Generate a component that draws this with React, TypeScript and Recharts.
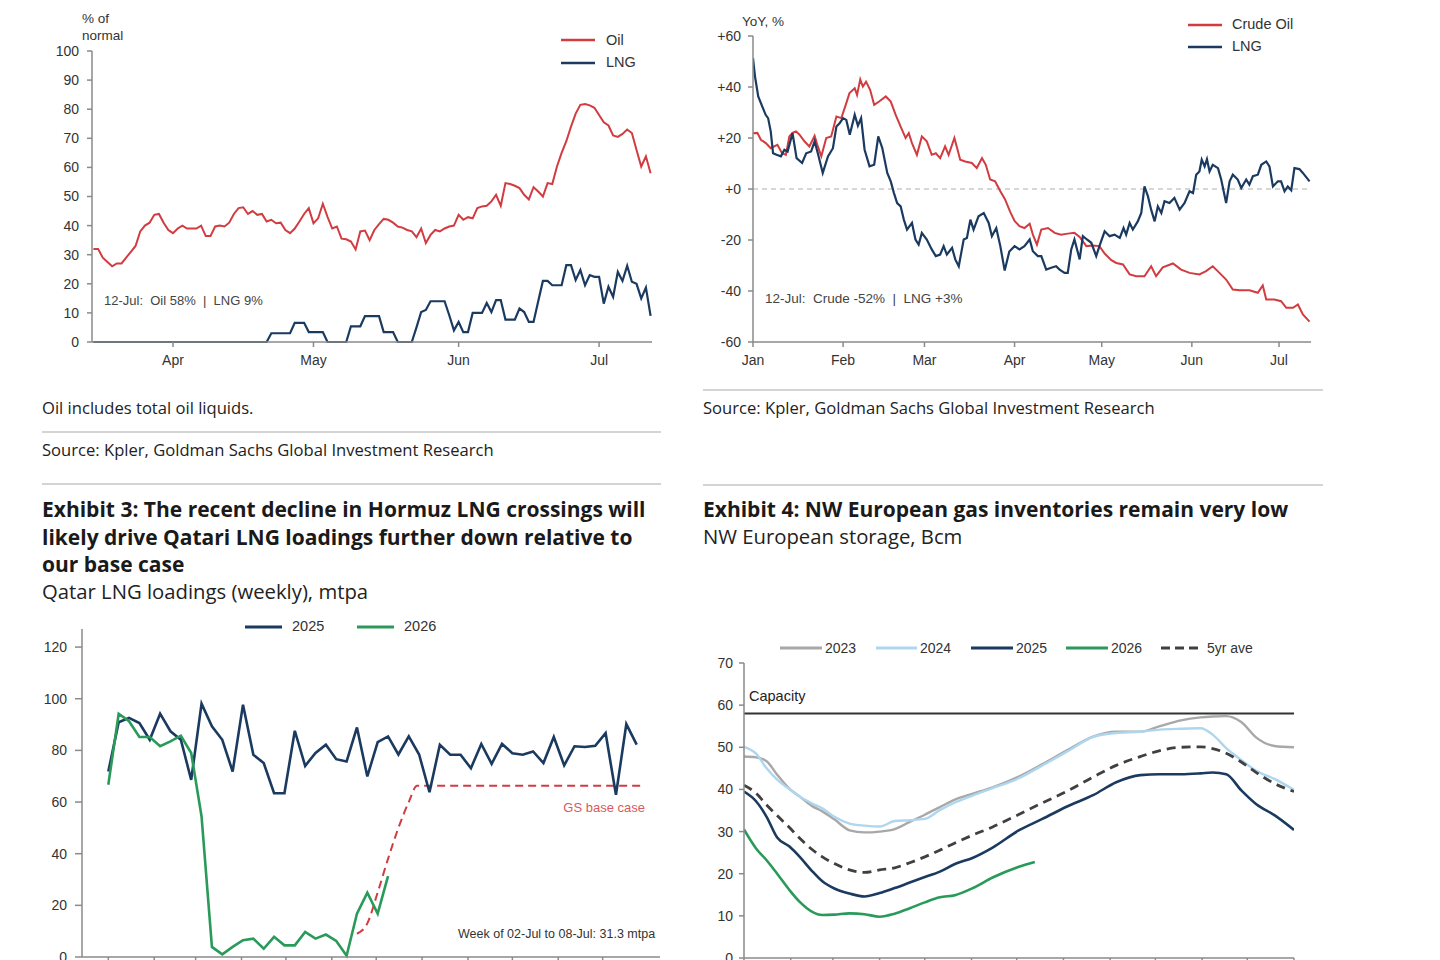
import React from 'react';
import { LineChart, Line, XAxis, YAxis, ReferenceLine } from 'recharts';

// ---------- Exhibit: Hormuz crossings, % of normal (daily, day 0 = 15-Mar) ----------
const hormuzTickDays = [17, 47, 78, 108];
const hormuzTickLabels = ['Apr', 'May', 'Jun', 'Jul'];
const pctTicks = [0, 10, 20, 30, 40, 50, 60, 70, 80, 90, 100];
const oilPct = [
  32, 32, 29, 27.5, 26, 27, 27, 29, 31, 33,
  38, 40, 41, 43.7, 44, 41, 38.5, 37.4, 39, 40,
  39, 39, 39, 40, 36.4, 36.4, 39.7, 40, 39.7, 41,
  44, 46, 46.3, 44, 45, 43.7, 44, 41.4, 42, 40.8,
  41, 38.5, 37.4, 39, 41.4, 44, 46, 40.8, 42.5, 47.5,
  43, 39, 39.7, 35.5, 35.3, 34.5, 31.8, 38, 38.3, 35,
  38.5, 40.5, 42.3, 42, 41, 39.7, 39.3, 38.5, 38, 36,
  39, 34, 36.8, 38.5, 38, 39, 39.7, 40, 43.7, 42,
  42.9, 42.5, 46, 46.6, 46.8, 48.3, 50.6, 46.8, 54.6, 54.3,
  53.7, 52.9, 50.6, 49, 53.2, 51.7, 50, 54.6, 54.3, 60.3,
  65, 69, 74, 78.5, 81.5, 81.8, 81.3, 80.5, 78, 75.5,
  74.4, 71, 70.5, 71.5, 73, 71.8, 66, 60.3, 63.8, 58,
];
const lngPct = [
  0, 0, 0, 0, 0, 0, 0, 0, 0, 0,
  0, 0, 0, 0, 0, 0, 0, 0, 0, 0,
  0, 0, 0, 0, 0, 0, 0, 0, 0, 0,
  0, 0, 0, 0, 0, 0, 0, 0, 3, 3,
  3, 3, 3, 6.6, 6.6, 6.6, 3.4, 3.4, 3.4, 3.4,
  0, 0, 0, 0, 0, 5.4, 5.4, 5.4, 8.9, 8.9,
  8.9, 8.9, 3.4, 3.4, 3.4, 0, 0, 0, 0, 5,
  10.3, 11, 14, 14, 14, 14, 9.2, 4, 6.9, 3.4,
  3.4, 10, 10, 10, 13.4, 10.3, 14.4, 14.4, 7.7, 7.7,
  7.7, 11.5, 10.3, 6.9, 6.9, 14, 21, 21, 19.5, 19.5,
  19.5, 26.4, 26.4, 21.3, 24.7, 19.5, 23, 22.4, 22.4, 13.2,
  19, 15.5, 24.1, 21, 26.2, 20.7, 20, 15, 18.7, 9,
];

// ---------- Exhibit: YoY change, % (day of year, 0 = 1-Jan) ----------
const yoyTickDays = [0, 31, 59, 90, 120, 151, 181];
const yoyTickLabels = ['Jan', 'Feb', 'Mar', 'Apr', 'May', 'Jun', 'Jul'];
const yoyTicks = [-60, -40, -20, 0, 20, 40, 60];
const crudeDay = [
  0, 1.5, 2.7, 4.4, 6.1, 7.3, 8.4, 10, 11.3, 12.5,
  13.6, 14.8, 16, 17.7, 19.4, 21.2, 22.3, 23.5, 25.2, 26.9,
  28.7, 30.4, 32.1, 33.2, 35, 35.8, 36.9, 37.8, 38.9, 40.3,
  41.7, 43.4, 45.7, 47.4, 49.1, 50.8, 52.5, 53.6, 54.7, 56.4,
  58.1, 59.8, 61.5, 62.9, 64.4, 66.1, 67.3, 69.3, 71.3, 73,
  75.3, 77, 78.8, 80.1, 81.6, 83.3, 85.1, 86.7, 88.5, 90,
  91.7, 93.4, 95.2, 96.3, 97.7, 99.2, 101.5, 103.8, 106, 108.3,
  110.6, 112.4, 114.7, 117, 119.2, 121, 123.3, 125, 127.3, 129.6,
  131.9, 134.7, 137, 138.7, 141, 144.5, 147.3, 150.2, 153.6, 155.9,
  158.2, 160.5, 162.8, 165.1, 167.4, 170.8, 173.7, 175.4, 176.6, 179.4,
  181.7, 183.5, 185.8, 187.5, 189.2, 191.5,
];
const crudeYoY = [
  21.9, 22, 19.3, 18, 16, 16.7, 17.3, 14, 13.4, 20.6,
  22, 22.6, 21.3, 18.7, 16.7, 20.9, 16.7, 12.8, 20, 20.6,
  28.4, 27.8, 33.7, 37.6, 39.5, 36.9, 43, 40.2, 42.1, 38.9,
  33, 34.3, 36.3, 34.3, 29.1, 24.5, 20, 21.9, 18, 13.4,
  20.6, 18.7, 13.4, 14, 12.1, 16.7, 13.4, 20, 11.5, 10.8,
  10.2, 8.2, 12.1, 9.5, 3.7, 3, -0.9, -4, -9, -12.5,
  -14.6, -15.3, -13.6, -17.9, -21.8, -15.9, -15.3, -17.2, -17.9, -17.5,
  -17.2, -18.8, -22.4, -22.2, -22.4, -25.3, -27.9, -29, -29.6, -33.5,
  -34.2, -34.2, -30.3, -34.2, -30.7, -29.2, -31.6, -32.9, -33.5, -32.2,
  -30.3, -32.9, -35.5, -39.4, -39.7, -39.7, -40.7, -37.8, -43.3, -43.3,
  -44, -46.6, -46.6, -45.3, -49.2, -52,
];
const lngDay = [
  0, 0.7, 1.8, 3.2, 4.4, 5.2, 6.1, 6.9, 8.1, 9.6,
  10.8, 11.9, 13.6, 15, 16.9, 18.3, 20, 21.2, 22.3, 24,
  25.8, 27.5, 28.7, 29.8, 31, 32.1, 33.3, 35, 36.1, 37.2,
  38.4, 40.1, 41.7, 43.1, 44.5, 46.2, 47.4, 48.5, 49.6, 50.8,
  51.9, 53, 54.7, 55.9, 57, 58.1, 59.8, 61.5, 62.9, 64.4,
  65.6, 66.7, 68.5, 69.6, 70.8, 72.5, 73.6, 74.8, 75.9, 77.6,
  79.4, 81.1, 82.2, 83.7, 85.1, 86.6, 88.2, 90, 91.7, 93.4,
  95.2, 96.3, 98, 99.2, 100.9, 102.6, 104.3, 105.5, 107.2, 108.3,
  109.5, 110.6, 112.4, 113.5, 114.9, 116.4, 118.1, 119.2, 121, 122.7,
  124.4, 126.2, 127.5, 128.4, 129.6, 130.7, 132.4, 133.6, 134.7, 135.9,
  137, 138.2, 139.3, 140.5, 141.6, 143.3, 145, 146.8, 148.5, 150.2,
  151.4, 152.5, 153.6, 154.4, 155.4, 156.2, 157.1, 158.2, 160, 161.1,
  162.8, 164, 165.1, 166.8, 168, 169.7, 170.8, 172, 173.7, 174.9,
  176.6, 177.7, 178.9, 180.6, 181.7, 182.9, 184, 185.2, 186.3, 188,
  189.2, 191.5,
];
const lngYoY = [
  51.3, 44, 36.3, 32.3, 29, 27.8, 22.6, 14, 13.4, 12.8,
  15.4, 14.7, 21.9, 12.1, 10.2, 14, 14.7, 18.7, 14, 6.3,
  12.8, 16, 24.5, 25.8, 27.8, 27.1, 21.3, 29.1, 24.8, 27.8,
  15.4, 8.9, 9.5, 20.6, 16, 6.3, 3, -1.6, -5.5, -6.8,
  -12, -15.9, -13.3, -19.8, -21.8, -17.2, -19.8, -23.7, -26.3, -25.7,
  -22.4, -25.7, -23.1, -27.6, -30.3, -19.8, -19.2, -12, -15.9, -10.7,
  -9.4, -13.3, -18.5, -15.3, -22.4, -32, -24.5, -22.4, -23.7, -22.4,
  -19.8, -24.4, -26.3, -26.3, -31.6, -30.9, -30.3, -31.6, -32.9, -32.9,
  -23.7, -19.8, -27.6, -18.5, -19.8, -21.1, -26.3, -22.4, -16.6, -18.5,
  -17.9, -19.2, -15.3, -17.9, -13.3, -15.9, -12.7, -9.4, 1, -2.9,
  -8.1, -12.7, -6.8, -9.4, -4.8, -5.5, -3.5, -8.1, -5.5, -0.9,
  -1.6, 5.6, 6.9, 11.5, 8.9, 11.7, 6.9, 9.5, 8.2, 3.7,
  -5.5, 3, 5.6, 3.7, 0.4, 3.7, 1.7, 5, 5.6, 9.5,
  10.8, 8.9, 1, 3, 3, -0.9, 1, -0.5, 8.2, 7.8,
  6.3, 3,
];

// ---------- Exhibit 3: Qatar LNG loadings (weekly), mtpa ----------
const monthStartDays = [0, 31, 59, 90, 120, 151, 181, 212, 243, 273, 304, 334];
const loadingTicks = [0, 20, 40, 60, 80, 100, 120];
const loadings2025 = [
  71.8, 90.9, 92.6, 90.6, 84.1, 94.2, 87.4, 84.1, 68.6, 98.1,
  89.3, 84.1, 71.8, 97.7, 78.3, 75.1, 63.4, 63.4, 87.6, 74,
  79, 82.2, 76.6, 75.7, 88.9, 69.9, 83.2, 85.4, 78.4, 85.4,
  78.4, 63.8, 82.2, 78.3, 78.3, 73.1, 82.5, 74.8, 82.5, 78.9,
  78.3, 79.6, 75.1, 85.2, 74.2, 81.6, 81.3, 81.8, 86.7, 62.8,
  90.2, 82.2,
];
const loadings2026 = [
  66.7, 94.2, 91.3, 85.2, 85.2, 81.6, 83.5, 85.7, 79, 54.4,
  3.9, 1, 3.9, 6.5, 7.1, 3.2, 7.8, 4.5, 4.5, 9.7,
  7.1, 8.7, 6.2, 0.5, 16.8, 24.9, 16.8, 31.3,
];
const baseCaseWeek = [24, 25, 26, 27, 28, 29, 29.8, 51.7];
const baseCaseValue = [9, 13, 25, 38, 50, 60, 66.3, 66.3];

// ---------- Exhibit 4: NW European storage, Bcm (day of year) ----------
const storageTicks = [0, 10, 20, 30, 40, 50, 60, 70];
const storageCapacity = 58;
const storageDay = [
  0, 8, 15, 22, 30, 37, 45, 52, 60, 70, 80, 90, 100, 110, 120, 130, 140,
  152, 165, 182, 198, 214, 232, 247, 263, 276, 290, 303, 311, 320, 330, 340, 352, 365,
];
const storage2023 = [
  47.8, 47.6, 46.7, 43.5, 40.2, 38.3, 36.1, 34.8, 32.9, 30.3, 29.8, 30, 30.6, 32.3, 34, 35.8, 37.6,
  39, 40.5, 43, 46, 49.2, 52.6, 53.7, 53.7, 55, 56.4, 57.1, 57.3, 57.4, 56, 52.3, 50.3, 50,
];
const storage2024 = [
  50.1, 48.5, 45, 42.3, 40.1, 38.3, 36.7, 35.5, 33.5, 31.9, 31.4, 31.2, 32.5, 32.7, 33, 35.1, 36.9,
  38.6, 40.3, 42.6, 45.7, 48.9, 52.5, 53.4, 53.7, 54.2, 54.4, 54.5, 53, 49.8, 47, 44.4, 42.5, 39.9,
];
const storage2025 = [
  39.5, 37.2, 33.5, 28.6, 26.5, 24, 20.7, 18.2, 16.5, 15.3, 14.6, 15.4, 16.6, 17.9, 19.2, 20.5, 22.3,
  23.8, 26.2, 30.2, 33, 35.9, 38.7, 41.7, 43.4, 43.6, 43.6, 43.8, 44, 43.6, 39.8, 36.5, 33.9, 30.4,
];
const storage5yrAve = [
  41, 39.1, 36.3, 33.8, 31, 28.4, 25.8, 24, 22.4, 20.9, 20.3, 20.9, 21.4, 22.6, 24, 25.6, 27.3,
  29.2, 31.1, 34, 36.8, 39.5, 43, 45.7, 47.8, 49.2, 50, 50.1, 49.7, 48.6, 46.5, 44, 41.4, 39.5,
];
const storage2026Day = [0, 8, 15, 22, 30, 37, 45, 52, 60, 70, 80, 90, 100, 110, 120, 130, 140, 152, 165, 182, 193];
const storage2026 = [
  30.5, 26, 23.2, 20, 16.2, 13.3, 11, 10.2, 10.3, 10.6, 10.4, 9.8, 10.5, 11.8, 13.2, 14.4, 14.9,
  16.6, 19.1, 21.6, 22.8,
];

// ---------- styling ----------
const CHART_FONT = "'Liberation Sans', Arial, sans-serif";
const PAGE_FONT = "'Open Sans', 'Noto Sans', sans-serif";
const AXIS = '#8a8a8a';
const TICK_TEXT = '#333333';
const RED = '#d13c41';
const NAVY = '#1b3a60';
const GREEN = '#2a9a5a';
const GREY_2023 = '#a8a8a8';
const BLUE_2024 = '#aed6ef';
const DARK_DASH = '#404040';

const tickStyle = { fontSize: 14, fill: TICK_TEXT, fontFamily: CHART_FONT };
const axisLine = { stroke: AXIS, strokeWidth: 1.5 };
const tickLine = { stroke: AXIS, strokeWidth: 1.5 };

const pair = (xs: number[], ys: number[]) => xs.map((x, i) => ({ x, y: ys[i] }));
const signed = (v: number) => (v >= 0 ? `+${v}` : `${v}`);
const last = (a: number[]) => a[a.length - 1];

type TxtProps = {
  x: number;
  y: number;
  size: number;
  children: React.ReactNode;
  color?: string;
  weight?: number;
  family?: string;
  anchor?: 'start' | 'end';
};

// x is the left edge (or right edge for anchor="end"); y is the vertical centre of the line
function Txt({ x, y, size, children, color = '#222', weight = 400, family = PAGE_FONT, anchor = 'start' }: TxtProps) {
  const lh = Math.round(size * 1.2 * 10) / 10;
  const style: React.CSSProperties = {
    position: 'absolute',
    left: x,
    top: y - lh / 2,
    height: lh,
    lineHeight: `${lh}px`,
    fontSize: size,
    fontFamily: family,
    fontWeight: weight,
    color,
    whiteSpace: 'pre',
    transform: anchor === 'end' ? 'translateX(-100%)' : undefined,
  };
  return <div style={style}>{children}</div>;
}

function Rule({ x, y, w }: { x: number; y: number; w: number }) {
  return <div style={{ position: 'absolute', left: x, top: y, width: w, height: 1.5, background: '#d4d4d4' }} />;
}

function Swatch({ x, y, w, color, dashed = false, thick = 3 }: { x: number; y: number; w: number; color: string; dashed?: boolean; thick?: number }) {
  return (
    <svg style={{ position: 'absolute', left: x, top: y - 5 }} width={w} height={10}>
      <line x1={0} x2={w} y1={5} y2={5} stroke={color} strokeWidth={thick} strokeDasharray={dashed ? '9 5' : undefined} />
    </svg>
  );
}

function HormuzChart() {
  const rows = oilPct.map((oil, day) => ({ day, oil, lng: lngPct[day] }));
  return (
    <div style={{ position: 'absolute', left: 0, top: 0, width: 700, height: 400, fontFamily: CHART_FONT }}>
      <LineChart width={700} height={400} data={rows} margin={{ top: 51, right: 48, bottom: 0, left: 0 }}>
        <XAxis
          type="number"
          dataKey="day"
          domain={[-0.3, 119.3]}
          allowDataOverflow
          ticks={hormuzTickDays}
          interval={0}
          tickFormatter={(d: number) => hormuzTickLabels[hormuzTickDays.indexOf(d)]}
          height={58}
          axisLine={axisLine}
          tickLine={tickLine}
          tickSize={5}
          tickMargin={8}
          tick={tickStyle}
        />
        <YAxis
          type="number"
          domain={[0, 100]}
          ticks={pctTicks}
          interval={0}
          width={92}
          axisLine={axisLine}
          tickLine={tickLine}
          tickSize={5}
          tickMargin={8}
          tick={tickStyle}
        />
        <Line type="linear" dataKey="oil" stroke={RED} strokeWidth={2} dot={false} isAnimationActive={false} />
        <Line type="linear" dataKey="lng" stroke={NAVY} strokeWidth={2.2} dot={false} isAnimationActive={false} />
      </LineChart>
      <Txt x={82} y={19} size={13.5} family={CHART_FONT} color={TICK_TEXT}>% of</Txt>
      <Txt x={82} y={36} size={13.5} family={CHART_FONT} color={TICK_TEXT}>normal</Txt>
      <Swatch x={561} y={40} w={34} color={RED} thick={2.5} />
      <Txt x={606} y={41} size={14.5} family={CHART_FONT} color={TICK_TEXT}>Oil</Txt>
      <Swatch x={561} y={63} w={34} color={NAVY} thick={2.5} />
      <Txt x={606} y={63} size={14.5} family={CHART_FONT} color={TICK_TEXT}>LNG</Txt>
      <Txt x={104} y={301} size={13} family={CHART_FONT} color="#444">
        {`12-Jul:  Oil ${last(oilPct)}%  |  LNG ${last(lngPct)}%`}
      </Txt>
    </div>
  );
}

function YoYChart() {
  const crude = pair(crudeDay, crudeYoY);
  const lng = pair(lngDay, lngYoY);
  return (
    <div style={{ position: 'absolute', left: 700, top: 0, width: 660, height: 400, fontFamily: CHART_FONT }}>
      <LineChart width={660} height={400} margin={{ top: 36, right: 49, bottom: 0, left: 0 }}>
        <XAxis
          type="number"
          dataKey="x"
          domain={[0, 192]}
          allowDataOverflow
          ticks={yoyTickDays}
          interval={0}
          tickFormatter={(d: number) => yoyTickLabels[yoyTickDays.indexOf(d)]}
          height={58}
          axisLine={axisLine}
          tickLine={tickLine}
          tickSize={5}
          tickMargin={8}
          tick={tickStyle}
        />
        <YAxis
          type="number"
          domain={[-60, 60]}
          ticks={yoyTicks}
          interval={0}
          tickFormatter={signed}
          width={53}
          axisLine={axisLine}
          tickLine={tickLine}
          tickSize={5}
          tickMargin={7}
          tick={tickStyle}
        />
        <ReferenceLine y={0} stroke="#b0b0b0" strokeWidth={1.2} strokeDasharray="5 4" />
        <Line data={crude} type="linear" dataKey="y" stroke={RED} strokeWidth={2} dot={false} isAnimationActive={false} />
        <Line data={lng} type="linear" dataKey="y" stroke={NAVY} strokeWidth={2.2} dot={false} isAnimationActive={false} />
      </LineChart>
      <Txt x={42} y={22} size={13.5} family={CHART_FONT} color={TICK_TEXT}>YoY, %</Txt>
      <Swatch x={488} y={25} w={34} color={RED} thick={2.5} />
      <Txt x={532} y={25} size={14.5} family={CHART_FONT} color={TICK_TEXT}>Crude Oil</Txt>
      <Swatch x={488} y={47} w={34} color={NAVY} thick={2.5} />
      <Txt x={532} y={47} size={14.5} family={CHART_FONT} color={TICK_TEXT}>LNG</Txt>
      <Txt x={65} y={299} size={13.5} family={CHART_FONT} color="#444">
        {`12-Jul:  Crude ${last(crudeYoY)}%  |  LNG ${signed(last(lngYoY))}%`}
      </Txt>
    </div>
  );
}

function LoadingsChart() {
  const weekTicks = monthStartDays.map((d) => d / 7);
  const s2025 = loadings2025.map((y, x) => ({ x, y }));
  const s2026 = loadings2026.map((y, x) => ({ x, y }));
  const base = pair(baseCaseWeek, baseCaseValue);
  return (
    <div style={{ position: 'absolute', left: 0, top: 600, width: 700, height: 400, fontFamily: CHART_FONT }}>
      <LineChart width={700} height={400} margin={{ top: 29, right: 40, bottom: 0, left: 0 }}>
        <XAxis
          type="number"
          dataKey="x"
          domain={[-2.54, 53.25]}
          allowDataOverflow
          ticks={weekTicks}
          interval={0}
          tickFormatter={() => ''}
          height={43}
          axisLine={axisLine}
          tickLine={tickLine}
          tickSize={6}
          tick={tickStyle}
        />
        <YAxis
          type="number"
          domain={[0, 127]}
          ticks={loadingTicks}
          interval={0}
          width={82}
          axisLine={axisLine}
          tickLine={tickLine}
          tickSize={7}
          tickMargin={8}
          tick={tickStyle}
        />
        <Line data={base} type="monotone" dataKey="y" stroke={RED} strokeWidth={2} strokeDasharray="8 5" dot={false} isAnimationActive={false} />
        <Line data={s2025} type="linear" dataKey="y" stroke={NAVY} strokeWidth={2.6} dot={false} isAnimationActive={false} />
        <Line data={s2026} type="linear" dataKey="y" stroke={GREEN} strokeWidth={2.6} dot={false} isAnimationActive={false} />
      </LineChart>
      <Swatch x={245} y={27} w={37} color={NAVY} />
      <Txt x={292} y={27} size={14.5} family={CHART_FONT} color={TICK_TEXT}>2025</Txt>
      <Swatch x={357} y={27} w={37} color={GREEN} />
      <Txt x={404} y={27} size={14.5} family={CHART_FONT} color={TICK_TEXT}>2026</Txt>
      <Txt x={645} y={208} size={13} family={CHART_FONT} color="#d75a5e" anchor="end">GS base case</Txt>
      <Txt x={458} y={334} size={12.5} family={CHART_FONT} color="#333">
        {`Week of 02-Jul to 08-Jul: ${last(loadings2026)} mtpa`}
      </Txt>
    </div>
  );
}

function StorageChart() {
  const dayTicks = [...monthStartDays, 365];
  const series = [
    { key: '2023', values: storage2023, color: GREY_2023, width: 2.4, dash: undefined },
    { key: '2024', values: storage2024, color: BLUE_2024, width: 2.4, dash: undefined },
    { key: '5yr', values: storage5yrAve, color: DARK_DASH, width: 2.8, dash: '9 6' },
    { key: '2025', values: storage2025, color: NAVY, width: 2.6, dash: undefined },
  ];
  return (
    <div style={{ position: 'absolute', left: 700, top: 600, width: 660, height: 400, fontFamily: CHART_FONT }}>
      <LineChart width={660} height={400} margin={{ top: 63, right: 66, bottom: 0, left: 0 }}>
        <XAxis
          type="number"
          dataKey="x"
          domain={[0, 365]}
          allowDataOverflow
          ticks={dayTicks}
          interval={0}
          tickFormatter={() => ''}
          height={42}
          axisLine={axisLine}
          tickLine={tickLine}
          tickSize={6}
          tick={tickStyle}
        />
        <YAxis
          type="number"
          domain={[0, 70]}
          ticks={storageTicks}
          interval={0}
          width={44}
          axisLine={axisLine}
          tickLine={tickLine}
          tickSize={5}
          tickMargin={6}
          tick={tickStyle}
        />
        <ReferenceLine y={storageCapacity} stroke="#333" strokeWidth={2} />
        {series.map((s) => (
          <Line
            key={s.key}
            data={pair(storageDay, s.values)}
            type="monotone"
            dataKey="y"
            stroke={s.color}
            strokeWidth={s.width}
            strokeDasharray={s.dash}
            dot={false}
            isAnimationActive={false}
          />
        ))}
        <Line data={pair(storage2026Day, storage2026)} type="monotone" dataKey="y" stroke={GREEN} strokeWidth={2.6} dot={false} isAnimationActive={false} />
      </LineChart>
      <Txt x={49} y={97} size={14.5} family={CHART_FONT} color="#222">Capacity</Txt>
      <Swatch x={80} y={48} w={42} color={GREY_2023} />
      <Txt x={125} y={48} size={14} family={CHART_FONT} color={TICK_TEXT}>2023</Txt>
      <Swatch x={176} y={48} w={41} color={BLUE_2024} />
      <Txt x={220} y={48} size={14} family={CHART_FONT} color={TICK_TEXT}>2024</Txt>
      <Swatch x={271} y={48} w={42} color={NAVY} />
      <Txt x={316} y={48} size={14} family={CHART_FONT} color={TICK_TEXT}>2025</Txt>
      <Swatch x={366} y={48} w={42} color={GREEN} />
      <Txt x={411} y={48} size={14} family={CHART_FONT} color={TICK_TEXT}>2026</Txt>
      <Swatch x={461} y={48} w={39} color={DARK_DASH} dashed />
      <Txt x={507} y={48} size={14} family={CHART_FONT} color={TICK_TEXT}>5yr ave</Txt>
    </div>
  );
}

export default function App() {
  return (
    <div style={{ position: 'fixed', left: 0, top: 0, width: 1440, height: 960, overflow: 'hidden', background: '#fff' }}>
      <HormuzChart />
      <YoYChart />
      <LoadingsChart />
      <StorageChart />

      <Txt x={42} y={408} size={16.6}>Oil includes total oil liquids.</Txt>
      <Rule x={42} y={431} w={619} />
      <Txt x={42} y={450} size={16.6}>Source: Kpler, Goldman Sachs Global Investment Research</Txt>
      <Rule x={42} y={483} w={619} />
      <Txt x={42} y={510} size={21} weight={700} color="#1a1a1a">Exhibit 3: The recent decline in Hormuz LNG crossings will</Txt>
      <Txt x={42} y={538} size={21} weight={700} color="#1a1a1a">likely drive Qatari LNG loadings further down relative to</Txt>
      <Txt x={42} y={565} size={21} weight={700} color="#1a1a1a">our base case</Txt>
      <Txt x={42} y={591} size={20.3}>Qatar LNG loadings (weekly), mtpa</Txt>

      <Rule x={703} y={389} w={620} />
      <Txt x={703} y={408} size={16.6}>Source: Kpler, Goldman Sachs Global Investment Research</Txt>
      <Rule x={703} y={484} w={620} />
      <Txt x={703} y={510} size={21} weight={700} color="#1a1a1a">Exhibit 4: NW European gas inventories remain very low</Txt>
      <Txt x={703} y={536} size={20.3}>NW European storage, Bcm</Txt>
    </div>
  );
}
